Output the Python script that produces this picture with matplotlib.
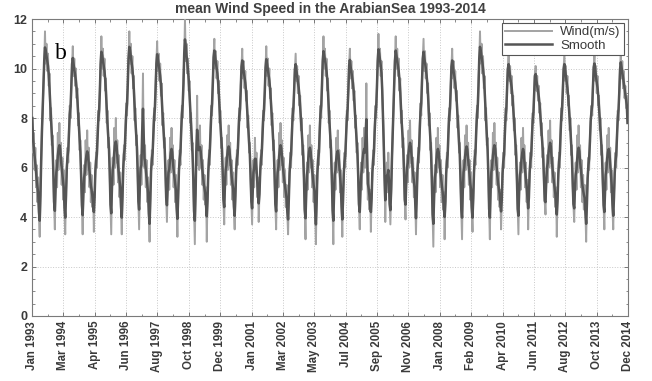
import numpy as np
import pandas as pd
import matplotlib
matplotlib.use("Agg")
import matplotlib.pyplot as plt
import matplotlib.dates as mdates
from matplotlib.ticker import MultipleLocator, FixedLocator
from datetime import datetime

years = list(range(1993, 2015))

# Dekad (10-day) mean wind speed, m/s, 36 values per year
w1993 = [8.0, 6.6, 7.4, 5.9, 6.8, 5.2, 6.1, 4.6, 5.6, 4.0, 3.2, 5.0, 6.3, 7.6, 8.3, 9.4, 10.2,
         11.5, 10.2, 11.0, 9.9, 10.6, 9.3, 9.8, 7.9, 8.4, 6.9, 7.3, 5.8, 4.6, 3.5,
         5.4, 6.3, 5.2, 7.4, 5.9]
w1994 = [7.8, 6.1, 7.0, 5.3, 6.4, 4.7, 5.9, 4.2,
         3.3, 5.1, 6.0, 6.8, 6.2, 7.6, 8.5, 8.0, 9.4, 10.2,
         10.9, 9.7, 10.4, 9.3, 10.0, 8.8, 9.2, 7.7, 8.2, 6.7, 7.1, 5.6, 4.5, 3.3,
         5.2, 6.1, 5.0, 7.1]
w1995 = [5.7, 7.5, 5.9, 6.8, 5.2, 6.2, 4.6, 5.7, 4.4, 5.0,
         3.4, 5.0, 5.9, 6.6, 6.0, 7.5, 8.3, 7.9, 9.2, 10.1,
         11.3, 10.0, 10.8, 9.7, 10.4, 9.1, 9.6, 7.8, 8.3, 6.8, 7.2, 5.7, 4.5, 3.3,
         5.5, 6.4]
w1996 = [5.3, 7.6, 6.0, 8.0, 6.2, 7.1, 5.4, 6.5, 4.8, 5.8, 4.3,
         3.3, 5.0, 6.0, 6.9, 6.3, 7.7, 8.6, 8.1, 9.5, 10.3,
         11.5, 10.2, 11.0, 9.8, 10.5, 9.2, 9.7, 7.9, 8.4, 6.9, 7.3, 5.8, 4.6, 3.5,
         5.6]
w1997 = [6.5, 5.3, 7.3, 9.8, 6.6, 6.0, 6.9, 5.2, 6.3, 4.6, 5.6, 4.0,
         3.0, 4.9, 5.9, 6.7, 6.1, 7.5, 8.4, 7.9, 9.3, 10.2,
         11.1, 9.9, 10.6, 9.5, 10.2, 8.9, 9.4, 7.7, 8.2, 6.8, 7.2, 5.7, 4.8, 3.8]
w1998 = [5.5, 6.3, 5.1, 7.2, 5.8, 7.6, 6.0, 6.9, 5.2, 6.3, 4.6, 5.7, 4.3,
         3.2, 5.0, 5.9, 6.7, 6.1, 7.6, 8.5, 8.0, 9.6, 10.4,
         12.0, 10.3, 11.0, 9.8, 10.4, 9.1, 9.5, 7.8, 8.2, 6.7, 7.0, 5.5, 4.3]
w1999 = [2.9,
         5.3, 6.2, 8.9, 6.1, 7.4, 5.9, 7.7, 6.0, 6.9, 5.3, 6.3, 4.7, 5.7, 4.5, 5.2,
         3.0, 4.9, 5.8, 6.7, 6.1, 7.6, 8.5, 8.1, 9.6, 10.5,
         11.2, 10.0, 10.7, 9.6, 10.3, 9.0, 9.5, 7.8, 8.3, 6.8]
w2000 = [7.2, 5.8, 4.7, 3.7,
         5.5, 6.4, 5.3, 7.3, 5.9, 7.7, 6.1, 7.0, 5.3, 6.3, 4.7, 5.8, 4.2,
         3.5, 5.0, 5.9, 6.7, 6.1, 7.5, 8.4, 7.9, 9.3, 10.1,
         10.8, 9.6, 10.3, 9.2, 9.9, 8.7, 9.1, 7.6, 8.1]
w2001 = [6.6, 7.0, 5.6, 4.6, 3.7,
         5.4, 6.3, 5.2, 7.2, 5.8, 6.6, 4.8, 5.6,
         3.8, 5.0, 5.9, 6.7, 6.1, 7.5, 8.3, 7.9, 9.2, 10.0,
         10.9, 9.7, 10.4, 9.3, 10.0, 8.8, 9.2, 7.7, 8.2, 6.7, 7.1, 5.6, 4.5]
w2002 = [3.5,
         5.4, 6.3, 5.2, 7.4, 5.9, 7.8, 6.1, 7.1, 5.4, 6.4, 4.8, 5.9, 4.4, 5.3, 4.1,
         3.3, 4.9, 5.8, 6.6, 6.0, 7.5, 8.4, 7.9, 9.3, 10.0,
         10.6, 9.5, 10.1, 9.0, 9.7, 8.5, 8.9, 7.5, 8.0, 6.5]
w2003 = [6.9, 5.5, 4.3, 3.1,
         5.3, 6.2, 5.1, 7.3, 5.8, 7.7, 6.0, 6.9, 5.2, 6.3, 4.6, 5.7, 4.2,
         2.9, 4.8, 5.8, 6.7, 6.1, 7.6, 8.5, 8.0, 9.5, 10.2,
         11.3, 10.0, 10.8, 9.7, 10.4, 9.1, 9.6, 7.8, 8.3]
w2004 = [6.8, 7.1, 5.6, 4.3, 2.9,
         5.3, 6.2, 5.1, 7.2, 5.8, 7.5, 5.9, 6.7, 5.0, 5.9, 4.3,
         3.2, 4.9, 5.8, 6.6, 6.0, 7.4, 8.3, 7.9, 9.3, 10.2,
         10.8, 9.6, 10.3, 9.2, 9.9, 8.7, 9.1, 7.6, 8.1, 6.6]
w2005 = [7.0, 5.6, 4.5, 3.5,
         5.3, 6.2, 5.1, 7.2, 5.8, 7.6, 6.0, 6.8, 9.4, 6.2, 4.7, 5.8, 4.3, 5.1,
         3.4, 4.9, 5.8, 6.7, 6.1, 7.6, 8.5, 8.0, 9.4, 10.2,
         11.4, 10.1, 10.8, 9.7, 10.3, 9.0, 8.2, 7.0]
w2006 = [5.8, 3.8,
         5.3, 6.2, 5.0, 6.6, 5.4, 4.5,
         3.7, 5.2, 6.4, 7.4, 8.3, 9.3, 10.3,
         11.3, 10.0, 10.8, 9.7, 10.4, 9.1, 9.6, 7.8, 8.3, 6.8, 7.2, 5.7, 4.6, 3.9,
         5.6, 6.5, 5.4, 7.5, 6.0, 7.9, 6.2]
w2007 = [7.1, 5.4, 6.4, 4.8, 5.8, 4.3,
         3.3, 4.9, 5.9, 6.8, 6.2, 7.7, 8.6, 8.1, 9.6, 10.4,
         11.2, 9.9, 10.7, 9.6, 10.2, 9.0, 9.4, 7.7, 8.2, 6.7, 7.0, 5.4, 4.1, 2.8,
         5.2, 6.1, 5.0, 7.2, 5.8, 7.6]
w2008 = [6.0, 6.9, 5.2, 6.3, 4.6, 5.7, 4.3, 5.0,
         3.1, 4.8, 5.8, 6.6, 6.0, 7.5, 8.4, 7.9, 9.3, 10.1,
         10.8, 9.6, 10.3, 9.2, 9.9, 8.7, 9.1, 7.6, 8.1, 6.6, 7.0, 5.5, 4.3, 3.1,
         5.4, 6.3, 5.2, 7.3]
w2009 = [5.9, 7.7, 6.1, 7.0, 5.3, 6.3, 4.7, 5.8, 4.2,
         3.4, 4.9, 5.8, 6.7, 6.1, 7.6, 8.5, 8.0, 9.5, 10.3,
         11.5, 10.2, 11.0, 9.8, 10.5, 9.2, 9.7, 7.9, 8.4, 6.9, 7.2, 5.6, 4.3, 3.1,
         5.4, 6.3, 5.2]
w2010 = [7.4, 5.9, 7.8, 6.1, 7.0, 5.3, 6.4, 4.7, 5.8, 4.4, 5.1,
         3.5, 4.8, 5.8, 6.6, 6.0, 7.5, 8.4, 7.9, 9.3, 10.0,
         10.6, 9.5, 10.1, 9.0, 9.7, 8.5, 8.9, 7.5, 8.0, 6.5, 6.9, 5.4, 4.3, 3.3,
         5.3]
w2011 = [6.2, 5.1, 7.2, 5.8, 7.6, 6.0, 6.9, 5.2, 6.2, 4.6, 5.5,
         3.5, 4.9, 5.8, 6.6, 6.0, 7.4, 8.2, 7.8, 9.1, 9.8,
         10.1, 9.1, 9.7, 8.7, 9.3, 8.2, 8.6, 7.3, 7.8, 6.4, 6.8, 5.3, 4.6, 4.1,
         5.6]
w2012 = [6.5, 5.4, 7.5, 6.0, 7.9, 6.2, 7.1, 5.4, 6.4, 4.8, 5.8, 4.4, 5.2,
         3.2, 4.8, 5.8, 6.6, 6.0, 7.5, 8.4, 7.9, 9.3, 10.0,
         10.6, 9.5, 10.1, 9.0, 9.7, 8.5, 8.9, 7.5, 8.0, 6.5, 6.9, 5.3, 4.5]
w2013 = [3.8,
         5.3, 6.2, 5.1, 7.3, 5.8, 7.7, 6.0, 6.9, 5.2, 6.3, 4.6, 5.7, 4.3, 5.3, 4.2,
         3.0, 4.7, 5.6, 6.4, 5.9, 7.2, 7.9, 8.5, 8.1, 9.4, 10.1,
         10.6, 9.5, 10.1, 9.0, 9.7, 8.5, 8.9, 7.5, 8.0]
w2014 = [6.5, 6.9, 5.4, 4.5, 3.5,
         5.3, 6.2, 5.1, 7.3, 5.8, 7.6, 6.0, 6.8, 5.0, 5.9, 4.3,
         3.5, 4.9, 5.8, 6.6, 6.0, 7.4, 8.3, 7.9, 9.2, 10.0,
         10.7, 9.6, 10.3, 9.2, 9.9, 8.8, 9.3, 8.4, 8.9, 7.8]

wind_by_year = [w1993, w1994, w1995, w1996, w1997, w1998, w1999, w2000, w2001, w2002, w2003,
                w2004, w2005, w2006, w2007, w2008, w2009, w2010, w2011, w2012, w2013, w2014]

tick_labels = ["Jan 1993", "Mar 1994", "Apr 1995", "Jun 1996", "Aug 1997", "Oct 1998", "Dec 1999",
               "Jan 2001", "Mar 2002", "May 2003", "Jul 2004", "Sep 2005", "Nov 2006", "Jan 2008",
               "Feb 2009", "Apr 2010", "Jun 2011", "Aug 2012", "Oct 2013", "Dec 2014"]

title = "mean Wind Speed in the ArabianSea 1993-2014"

# ---- build series ----
dates = []
for y in years:
    for m in range(1, 13):
        for d in (5, 15, 25):
            dates.append(datetime(y, m, d))
x = mdates.date2num(dates)
wind = np.concatenate([np.asarray(v, dtype=float) for v in wind_by_year])
ws = pd.Series(wind)
smooth = (0.25 * ws.shift(1) + 0.5 * ws + 0.25 * ws.shift(-1)).fillna(ws).values

plt.rcParams['font.family'] = ['Liberation Sans', 'DejaVu Sans']

fig = plt.figure(figsize=(6.52, 3.81), dpi=100)
ax = fig.add_axes([32/652, 1-316/381, (628-32)/652, (316-19)/381])

ax.plot(x, wind, color='#a3a3a3', lw=1.4, label='Wind(m/s)', zorder=3)
ax.plot(x, smooth, color='#555555', lw=1.8, label='Smooth', zorder=4)

x0 = mdates.date2num(datetime(1993, 1, 1))
x1 = mdates.date2num(datetime(2014, 12, 31))
ax.set_xlim(x0, x1)
ax.set_ylim(0, 12)

major = np.linspace(x0, x1, len(tick_labels))
ax.xaxis.set_major_locator(FixedLocator(major))
ax.xaxis.set_minor_locator(FixedLocator((major[:-1] + major[1:]) / 2))
ax.set_xticklabels(tick_labels, rotation=90, fontsize=8.3, color='#3a3a3a')
ax.yaxis.set_major_locator(MultipleLocator(2))
ax.yaxis.set_minor_locator(MultipleLocator(0.5))
ax.tick_params(axis='y', labelsize=9, colors='#3a3a3a')
for lab in ax.get_yticklabels() + ax.get_xticklabels():
    lab.set_fontweight('bold')
ax.tick_params(which='both', direction='in', top=True, right=True, color='#777777')
ax.tick_params(which='major', length=3, width=0.7)
ax.tick_params(which='minor', length=1.8, width=0.6)

ax.grid(True, which='major', linestyle=':', color='#c8c8c8', lw=0.7, zorder=0)
for s in ax.spines.values():
    s.set_color('#7a7a7a')
    s.set_linewidth(0.8)

ax.set_title(title, fontsize=10, color='#404040', pad=4, fontweight='bold')

ax.text(0.038, 0.885, 'b', transform=ax.transAxes, fontsize=17,
        family=['Liberation Serif', 'DejaVu Serif'], ha='left', va='center', zorder=6)

leg = ax.legend(loc='upper right', fontsize=9.5, fancybox=False, framealpha=1,
                edgecolor='#555555', handlelength=3.6, borderaxespad=0.3,
                labelspacing=0.1, borderpad=0.25, handletextpad=0.6)
leg.get_frame().set_linewidth(0.8)
leg.set_zorder(7)
for t in leg.get_texts():
    t.set_color('#3a3a3a')

fig.savefig('out.png', dpi=100)
